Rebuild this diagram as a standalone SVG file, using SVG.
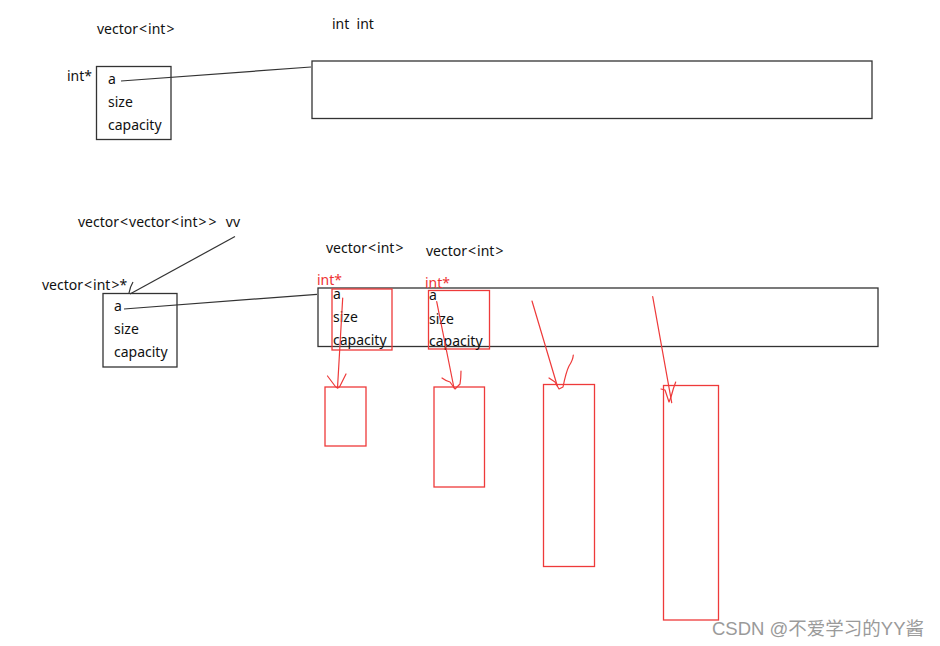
<svg xmlns="http://www.w3.org/2000/svg" width="940" height="646" viewBox="0 0 940 646">
<style>
.t{font-family:"Noto Sans","Liberation Sans",sans-serif;font-size:14px;fill:#111;white-space:pre}
.r{font-family:"Noto Sans","Liberation Sans",sans-serif;font-size:14px;fill:#ee3333}
.box{fill:none;stroke:#333;stroke-width:1.3}
.rbox{fill:none;stroke:#ee3a3a;stroke-width:1.3}
.ln{fill:none;stroke:#333;stroke-width:1.2}
.rl{fill:none;stroke:#ee3a3a;stroke-width:1.2;stroke-linecap:round;stroke-linejoin:round}
.wm{font-family:"Liberation Sans","Noto Sans CJK SC",sans-serif;font-size:18.5px;fill:#9a9a9a}
</style>
<rect width="940" height="646" fill="#fff"/>

<g id="vec-top">
<text class="t" x="97" y="34">vector<tspan dx="1">&lt;</tspan><tspan dx="1">int</tspan><tspan dx="1">&gt;</tspan></text>
<text class="t" x="67" y="81">int*</text>
<rect class="box" x="96.5" y="66.5" width="74.5" height="73"/>
<text class="t" x="108" y="84">a</text>
<text class="t" x="108" y="107">size</text>
<text class="t" x="108" y="130">capacity</text>
</g>

<g id="array-top">
<text class="t" x="332" y="29">int  int</text>
<rect class="box" x="312" y="61" width="560" height="57.5"/>
</g>

<g id="vv">
<text class="t" x="78" y="227">vector<tspan dx="1">&lt;</tspan><tspan dx="1">vector</tspan><tspan dx="1">&lt;</tspan><tspan dx="1">int</tspan><tspan dx="1">&gt;</tspan><tspan dx="2">&gt;</tspan><tspan dx="2">  vv</tspan></text>
</g>

<g id="vec-bottom">
<text class="t" x="42" y="290">vector<tspan dx="1">&lt;</tspan><tspan dx="1">int</tspan><tspan dx="1">&gt;</tspan>*</text>
<rect class="box" x="103" y="293.5" width="74" height="73.5"/>
<text class="t" x="114" y="311">a</text>
<text class="t" x="114" y="334">size</text>
<text class="t" x="114" y="357">capacity</text>
</g>

<g id="array-bottom">
<text class="t" x="326" y="253">vector<tspan dx="1">&lt;</tspan><tspan dx="1">int</tspan><tspan dx="1">&gt;</tspan></text>
<text class="t" x="426" y="256">vector<tspan dx="1">&lt;</tspan><tspan dx="1">int</tspan><tspan dx="1">&gt;</tspan></text>
<rect class="box" x="318" y="288" width="560" height="58.5"/>
</g>

<g id="elem1">
<text class="r" x="317" y="285">int*</text>
<rect class="rbox" x="332" y="289" width="60" height="61"/>
<text class="t" x="333" y="298.5">a</text>
<text class="t" x="333" y="322">size</text>
<text class="t" x="333" y="344.5">capacity</text>
</g>

<g id="elem2">
<text class="r" x="425" y="288">int*</text>
<rect class="rbox" x="428.5" y="290.5" width="61" height="58.5"/>
<text class="t" x="429" y="299.5">a</text>
<text class="t" x="429" y="323.5">size</text>
<text class="t" x="429" y="346">capacity</text>
</g>

<g id="buf1"><rect class="rbox" x="325" y="387" width="41" height="59"/></g>
<g id="buf2"><rect class="rbox" x="434" y="387" width="50.5" height="100"/></g>
<g id="buf3"><rect class="rbox" x="543.5" y="384.5" width="51" height="182"/></g>
<g id="buf4"><rect class="rbox" x="663.5" y="385.5" width="55" height="234.5"/></g>

<g id="connectors">
<path class="ln" d="M121 81 L311 67"/>
<path class="ln" d="M235 236.5 L130 294"/>
<path class="ln" d="M133 282 Q130 287 129 293"/>
<path class="ln" d="M124 309 L317 294.3"/>
<path class="rl" d="M342.7 298 L337.5 388"/>
<path class="rl" d="M327.5 376 L335 386 Q338 390 340 386 L346 374"/>
<path class="rl" d="M436.7 301.7 L454 388"/>
<path class="rl" d="M442 378 Q446 381 450 382 L455 389 L460 384 Q461 378 461 371"/>
<path class="rl" d="M532 301 L557.3 386"/>
<path class="rl" d="M549 378 L555 382 L559 389 L563 387 Q566 372 569 366 Q573 360 573.3 355"/>
<path class="rl" d="M652.7 296.7 L671.7 402.7"/>
<path class="rl" d="M661 389 L665 390 L669 402 L671 397 Q673 389 675.7 382"/>
</g>

<text class="wm" x="712" y="635">CSDN @不爱学习的YY酱</text>
</svg>
